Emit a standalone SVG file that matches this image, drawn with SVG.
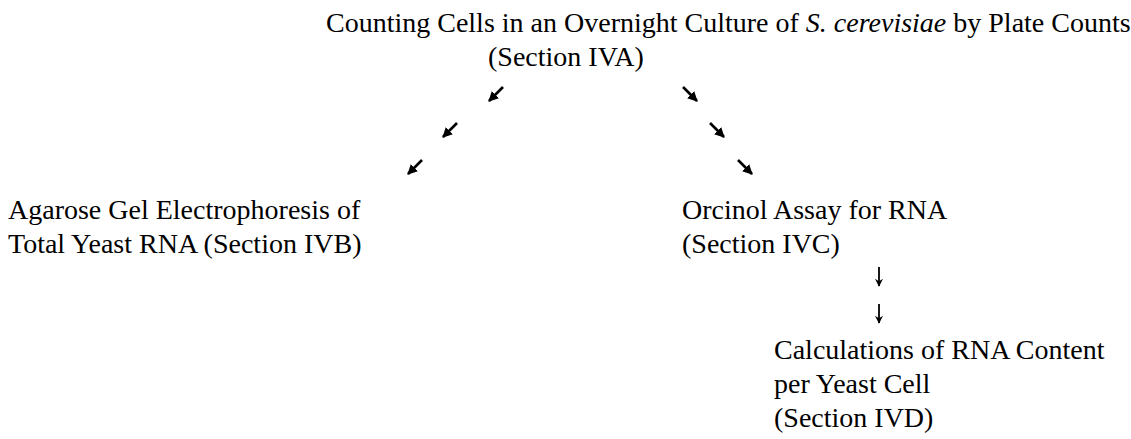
<svg xmlns="http://www.w3.org/2000/svg" width="1131" height="439" viewBox="0 0 1131 439">
  <defs>
    <style>
      .t { font-size: 28px; fill: #000; }
      .i { font-style: italic; }
      .c { stroke: #000; stroke-width: 2.6; fill: none; }
      .d { stroke: #000; stroke-width: 1.8; fill: none; }
    </style>
    <marker id="ah" viewBox="0 0 10 10" refX="9" refY="5" markerWidth="10" markerHeight="10" markerUnits="userSpaceOnUse" orient="auto">
      <path d="M0,0 L10,5 L0,10 Z" fill="#000"/>
    </marker>
    <marker id="ahd" viewBox="0 0 10 10" refX="9" refY="5" markerWidth="8" markerHeight="10" markerUnits="userSpaceOnUse" orient="auto">
      <path d="M0,0 L10,5 L0,10 L3,5 Z" fill="#000"/>
    </marker>
  </defs>
  <rect width="1131" height="439" fill="#fff"/>

  <g font-family="'Liberation Serif', 'DejaVu Serif', serif">
  <g id="node-iva">
    <text class="t" x="326" y="32">Counting Cells in an Overnight Culture of <tspan class="i">S. cerevisiae</tspan> by Plate Counts</text>
    <text class="t" x="488" y="66">(Section IVA)</text>
  </g>
  <g id="node-ivb">
    <text class="t" x="8" y="219">Agarose Gel Electrophoresis of</text>
    <text class="t" x="8" y="253">Total Yeast RNA (Section IVB)</text>
  </g>
  <g id="node-ivc">
    <text class="t" x="682" y="219">Orcinol Assay for RNA</text>
    <text class="t" x="682" y="253">(Section IVC)</text>
  </g>
  <g id="node-ivd">
    <text class="t" x="774" y="359">Calculations of RNA Content</text>
    <text class="t" x="774" y="393">per Yeast Cell</text>
    <text class="t" x="774" y="427">(Section IVD)</text>
  </g>
  </g>

  <g id="connectors">
    <line class="c" x1="503" y1="87" x2="489" y2="101" marker-end="url(#ah)"/>
    <line class="c" x1="457" y1="123" x2="443" y2="137" marker-end="url(#ah)"/>
    <line class="c" x1="422" y1="160" x2="408" y2="174" marker-end="url(#ah)"/>
    <line class="c" x1="683" y1="87" x2="697" y2="101" marker-end="url(#ah)"/>
    <line class="c" x1="710" y1="123" x2="724" y2="137" marker-end="url(#ah)"/>
    <line class="c" x1="738" y1="160" x2="752" y2="174" marker-end="url(#ah)"/>
    <line class="d" x1="879" y1="267" x2="879" y2="286" marker-end="url(#ahd)"/>
    <line class="d" x1="879" y1="304" x2="879" y2="323" marker-end="url(#ahd)"/>
  </g>
</svg>
